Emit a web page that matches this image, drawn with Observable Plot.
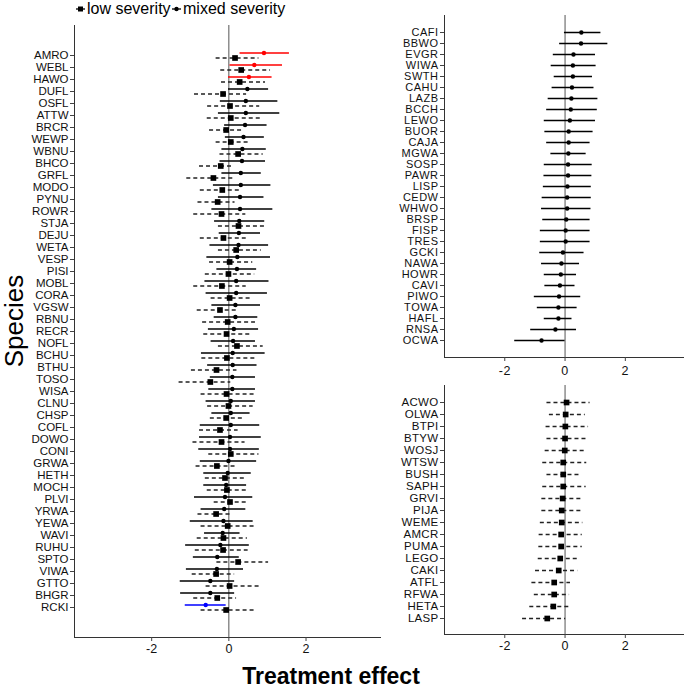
<!DOCTYPE html>
<html><head><meta charset="utf-8">
<script src="https://cdn.jsdelivr.net/npm/d3@7"></script>
<script src="https://cdn.jsdelivr.net/npm/@observablehq/plot@0.6"></script>
<style>
body{margin:0;background:#fff;font-family:"Liberation Sans",Arial,sans-serif;}
#wrap{position:relative;width:685px;height:690px;overflow:hidden;background:#fff;}
.abs{position:absolute;}
.abs svg{overflow:visible;}
</style></head><body><div id="wrap">
<div id="legend" class="abs" style="left:0;top:0;width:300px;height:20px;font-size:16px;line-height:17px;color:#000;"></div>
<div id="pLeft" class="abs" style="left:0;top:0;"></div>
<div id="pTop" class="abs" style="left:370px;top:0;"></div>
<div id="pBot" class="abs" style="left:370px;top:370px;"></div>
<div class="abs" style="left:14px;top:321px;transform:translate(-50%,-50%) rotate(-90deg);white-space:nowrap;font-size:26px;line-height:28px;color:#000;">Species</div>
<div class="abs" style="left:181px;width:300px;top:664px;text-align:center;font-size:23px;line-height:25px;font-weight:bold;color:#000;">Treatment effect</div>
</div>
<script>
// ---- Left panel: species with both low- and mixed-severity estimates ----
const bothSpecies = ["AMRO","WEBL","HAWO","DUFL","OSFL","ATTW","BRCR","WEWP","WBNU","BHCO","GRFL","MODO","PYNU","ROWR","STJA","DEJU","WETA","VESP","PISI","MOBL","CORA","VGSW","RBNU","RECR","NOFL","BCHU","BTHU","TOSO","WISA","CLNU","CHSP","COFL","DOWO","CONI","GRWA","HETH","MOCH","PLVI","YRWA","YEWA","WAVI","RUHU","SPTO","VIWA","GTTO","BHGR","RCKI"];
const mixedEst = [0.91,0.66,0.52,0.48,0.44,0.44,0.42,0.38,0.35,0.34,0.31,0.31,0.29,0.29,0.27,0.26,0.25,0.22,0.21,0.19,0.19,0.17,0.17,0.13,0.11,0.10,0.10,0.09,0.09,0.05,0.05,0.05,0.03,0.03,-0.01,-0.03,-0.07,-0.10,-0.12,-0.14,-0.16,-0.22,-0.30,-0.31,-0.48,-0.48,-0.60];
const mixedLo = [0.29,0.03,-0.01,-0.01,-0.22,-0.27,-0.11,-0.09,-0.18,-0.23,-0.18,-0.40,-0.27,-0.44,-0.37,-0.25,-0.49,-0.57,-0.31,-0.62,-0.59,-0.44,-0.38,-0.53,-0.46,-0.71,-0.55,-0.48,-0.52,-0.59,-0.44,-0.74,-0.76,-0.78,-0.74,-0.65,-0.65,-0.89,-0.72,-1.00,-0.63,-1.12,-0.92,-1.10,-1.26,-1.25,-1.13];
const mixedHi = [1.57,1.39,1.12,1.03,1.27,1.32,0.99,0.92,0.97,0.95,0.84,1.09,0.91,1.14,0.93,0.82,1.03,1.08,0.72,1.04,1.00,0.82,0.75,0.77,0.69,0.94,0.73,0.69,0.69,0.69,0.55,0.80,0.84,0.79,0.72,0.58,0.46,0.62,0.44,0.63,0.29,0.53,0.27,0.38,0.15,0.15,-0.07];
const mixedSig = ["pos","pos","pos","ns","ns","ns","ns","ns","ns","ns","ns","ns","ns","ns","ns","ns","ns","ns","ns","ns","ns","ns","ns","ns","ns","ns","ns","ns","ns","ns","ns","ns","ns","ns","ns","ns","ns","ns","ns","ns","ns","ns","ns","ns","ns","ns","neg"];
const lowEst = [0.16,0.32,0.28,-0.15,0.03,0.05,-0.07,0.05,0.24,-0.21,-0.40,-0.17,-0.29,-0.19,0.25,-0.14,0.19,0.02,-0.01,-0.18,0.02,-0.23,-0.03,-0.06,0.21,-0.05,-0.32,-0.48,-0.06,-0.01,-0.07,-0.23,-0.19,0.05,-0.31,-0.10,-0.05,0.03,-0.33,-0.03,-0.14,-0.15,0.24,-0.33,0.02,-0.30,-0.07];
const lowLo = [-0.33,-0.21,-0.19,-0.89,-0.55,-0.56,-0.50,-0.33,-0.23,-0.76,-1.09,-0.74,-0.80,-0.91,-0.27,-0.74,-0.27,-0.50,-0.61,-0.91,-0.46,-0.82,-0.68,-0.65,-0.27,-0.70,-0.97,-1.29,-0.72,-0.55,-0.48,-0.76,-0.93,-0.52,-0.85,-0.61,-0.56,-0.38,-0.80,-0.72,-0.82,-0.87,-0.31,-0.95,-0.59,-0.91,-0.72];
const lowHi = [0.78,1.08,0.95,0.46,0.80,0.85,0.39,0.50,0.89,0.14,0.12,0.32,0.16,0.44,0.95,0.45,0.84,0.62,0.67,0.45,0.58,0.24,0.69,0.56,0.89,0.69,0.21,0.05,0.69,0.63,0.38,0.24,0.42,0.78,0.16,0.41,0.46,0.46,0.09,0.72,0.48,0.50,1.03,0.15,0.80,0.20,0.67];

// ---- Top-right panel: mixed-severity only ----
const mixedOnlySpecies = ["CAFI","BBWO","EVGR","WIWA","SWTH","CAHU","LAZB","BCCH","LEWO","BUOR","CAJA","MGWA","SOSP","PAWR","LISP","CEDW","WHWO","BRSP","FISP","TRES","GCKI","NAWA","HOWR","CAVI","PIWO","TOWA","HAFL","RNSA","OCWA"];
const mixedOnlyEst = [0.54,0.53,0.28,0.26,0.26,0.23,0.21,0.19,0.16,0.12,0.12,0.11,0.10,0.10,0.08,0.07,0.07,0.04,0.02,0.02,-0.07,-0.12,-0.14,-0.17,-0.20,-0.22,-0.22,-0.32,-0.78];
const mixedOnlyLo = [-0.02,-0.18,-0.39,-0.46,-0.36,-0.43,-0.56,-0.61,-0.69,-0.67,-0.61,-0.47,-0.69,-0.70,-0.72,-0.76,-0.78,-0.74,-0.82,-0.82,-0.84,-0.78,-0.69,-0.67,-1.02,-0.92,-0.69,-1.14,-1.67];
const mixedOnlyHi = [1.19,1.42,1.01,1.03,0.91,0.96,1.09,1.07,1.01,0.93,0.83,0.70,0.90,0.89,0.87,0.87,0.86,0.83,0.83,0.83,0.63,0.48,0.38,0.33,0.52,0.40,0.23,0.38,0.00];

// ---- Bottom-right panel: low-severity only ----
const lowOnlySpecies = ["ACWO","OLWA","BTPI","BTYW","WOSJ","WTSW","BUSH","SAPH","GRVI","PIJA","WEME","AMCR","PUMA","LEGO","CAKI","ATFL","RFWA","HETA","LASP"];
const lowOnlyEst = [0.05,0.02,0.01,0.00,-0.01,-0.06,-0.06,-0.06,-0.08,-0.11,-0.11,-0.13,-0.13,-0.16,-0.21,-0.36,-0.36,-0.39,-0.59];
const lowOnlyLo = [-0.60,-0.52,-0.63,-0.60,-0.66,-0.74,-0.60,-0.74,-0.77,-0.77,-0.82,-0.86,-0.87,-0.89,-0.98,-1.10,-1.02,-1.17,-1.41];
const lowOnlyHi = [0.83,0.67,0.78,0.72,0.73,0.72,0.56,0.70,0.62,0.53,0.59,0.57,0.57,0.47,0.42,0.18,0.15,0.19,0.02];

const xTicks = [-2, 0, 2];
const xDomain = [-4.0, 3.93];

const bothRows = bothSpecies.map((sp, i) => ({sp, mEst: mixedEst[i], mLo: mixedLo[i], mHi: mixedHi[i], sig: mixedSig[i], lEst: lowEst[i], lLo: lowLo[i], lHi: lowHi[i]}));
const mixedRows = mixedOnlySpecies.map((sp, i) => ({sp, est: mixedOnlyEst[i], lo: mixedOnlyLo[i], hi: mixedOnlyHi[i]}));
const lowRows = lowOnlySpecies.map((sp, i) => ({sp, est: lowOnlyEst[i], lo: lowOnlyLo[i], hi: lowOnlyHi[i]}));

const FONT = '"Liberation Sans", Arial, sans-serif';
const dash = "4,3";

function frameAndAxes(fs, tp) {
  return [
    Plot.ruleX([0], {stroke: "#555", strokeWidth: 1}),
    Plot.frame({anchor: "left", stroke: "#333", strokeWidth: 1}),
    Plot.frame({anchor: "bottom", stroke: "#333", strokeWidth: 1}),
    Plot.axisY({tickSize: 4, tickPadding: 2, fontSize: fs, stroke: "#444", fill: "#111", label: null}),
    Plot.axisX({ticks: xTicks, tickSize: 4, tickPadding: tp, fontSize: 12.5, tickFormat: d => String(d), stroke: "#444", fill: "#111", label: null})
  ];
}

const leftPlot = Plot.plot({
  width: 385, height: 665,
  marginLeft: 74, marginRight: 5, marginTop: 25, marginBottom: 28,
  style: {background: "transparent", fontFamily: FONT, color: "#111", overflow: "visible"},
  x: {domain: xDomain},
  y: {type: "point", domain: bothSpecies, padding: 1.4},
  color: {type: "ordinal", domain: ["pos", "ns", "neg"], range: ["#ff0000", "#000000", "#0000ff"]},
  marks: [
    ...frameAndAxes(11.5, 3),
    Plot.ruleY(bothRows, {y: "sp", x1: "lLo", x2: "lHi", dy: 2.5, stroke: "#222", strokeWidth: 1.3, strokeDasharray: dash}),
    Plot.dot(bothRows, {x: "lEst", y: "sp", dy: 2.5, symbol: "square", r: 3.2, fill: "#000"}),
    Plot.ruleY(bothRows, {y: "sp", x1: "mLo", x2: "mHi", dy: -2.5, stroke: "sig", strokeWidth: 1.5}),
    Plot.dot(bothRows, {x: "mEst", y: "sp", dy: -2.5, r: 2.2, fill: "sig"})
  ]
});
document.getElementById("pLeft").appendChild(leftPlot);

const topPlot = Plot.plot({
  width: 315, height: 382,
  marginLeft: 74, marginRight: 2, marginTop: 15, marginBottom: 25,
  style: {background: "transparent", fontFamily: FONT, color: "#111", overflow: "visible", letterSpacing: "0.5px"},
  x: {domain: xDomain},
  y: {type: "point", domain: mixedOnlySpecies, padding: 1.0},
  marks: [
    ...frameAndAxes(11, 5),
    Plot.ruleY(mixedRows, {y: "sp", x1: "lo", x2: "hi", stroke: "#000", strokeWidth: 1.5}),
    Plot.dot(mixedRows, {x: "est", y: "sp", r: 2.2, fill: "#000"})
  ]
});
document.getElementById("pTop").appendChild(topPlot);

const botPlot = Plot.plot({
  width: 315, height: 289,
  marginLeft: 74, marginRight: 2, marginTop: 15, marginBottom: 25,
  style: {background: "transparent", fontFamily: FONT, color: "#111", overflow: "visible", letterSpacing: "0.3px"},
  x: {domain: xDomain},
  y: {type: "point", domain: lowOnlySpecies, padding: 1.0},
  marks: [
    ...frameAndAxes(11.5, 3),
    Plot.ruleY(lowRows, {y: "sp", x1: "lo", x2: "hi", stroke: "#222", strokeWidth: 1.3, strokeDasharray: dash}),
    Plot.dot(lowRows, {x: "est", y: "sp", symbol: "square", r: 3.2, fill: "#000"})
  ]
});
document.getElementById("pBot").appendChild(botPlot);

// ---- Legend ----
const legendItems = [
  {label: "low severity", symbol: "square", x: 75},
  {label: "mixed severity", symbol: "circle", x: 171}
];
const lg = document.getElementById("legend");
for (const it of legendItems) {
  const d = document.createElement("div");
  d.style.cssText = `position:absolute;left:${it.x}px;top:0px;white-space:nowrap;display:flex;align-items:center;`;
  const key = it.symbol === "square"
    ? '<svg width="11" height="12"><line x1="1" y1="6" x2="10" y2="6" stroke="#000" stroke-width="1.3"/><rect x="3" y="3.5" width="5" height="5" fill="#000"/></svg>'
    : '<svg width="11" height="12"><line x1="1" y1="6" x2="10" y2="6" stroke="#000" stroke-width="1.3"/><circle cx="5.5" cy="6" r="2.2" fill="#000"/></svg>';
  d.innerHTML = key + `<span style="margin-left:1px;">${it.label}</span>`;
  lg.appendChild(d);
}
</script></body></html>
